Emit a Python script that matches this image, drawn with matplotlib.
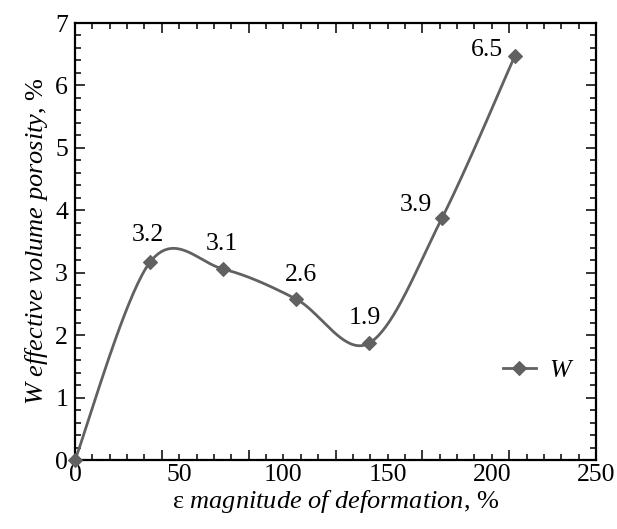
import numpy as np
import matplotlib
matplotlib.use('Agg')
import matplotlib.pyplot as plt

# data
deformation = [0, 36, 71, 106, 141, 176, 211]
porosity = [0, 3.17, 3.06, 2.58, 1.87, 3.87, 6.47]
point_labels = ['', '3.2', '3.1', '2.6', '1.9', '3.9', '6.5']
label_offsets = [(0, 0), (-2, 27), (-1, 25), (5, 24), (-4, 25), (-26, 13), (-28, 6)]
x_labels = [0, 50, 100, 150, 200, 250]

plt.rcParams['font.family'] = ['Liberation Serif', 'DejaVu Serif']
plt.rcParams['mathtext.fontset'] = 'custom'
plt.rcParams['mathtext.rm'] = 'Liberation Serif'
plt.rcParams['mathtext.it'] = 'Liberation Serif:italic'

color = '#616161'


# Excel-like smoothed line: cubic Bezier segments through the points
def smooth(xs, ys, sx, sy, n=40):
    p = np.column_stack([np.asarray(xs, float) * sx, np.asarray(ys, float) * sy])
    ext = np.vstack([p[0], p, p[-1]])
    out = []
    t = np.linspace(0, 1, n)[:, None]
    for i in range(len(p) - 1):
        p0, p1, p2, p3 = ext[i], ext[i + 1], ext[i + 2], ext[i + 3]
        c1 = p1 + (p2 - p0) / 6
        c2 = p2 - (p3 - p1) / 6
        seg = (1 - t) ** 3 * p1 + 3 * (1 - t) ** 2 * t * c1 + 3 * (1 - t) * t ** 2 * c2 + t ** 3 * p2
        out.append(seg)
    out = np.vstack(out)
    return out[:, 0] / sx, out[:, 1] / sy


fig = plt.figure(figsize=(6.17, 5.29), dpi=100)
ax = fig.add_axes([0.1216, 0.1304, 0.8444, 0.8261])

xs, ys = smooth(deformation, porosity, 521 / 250, 437 / 7)
ax.plot(xs, ys, color=color, lw=2, zorder=2)
ax.plot(deformation, porosity, ls='none', marker='D', ms=7.5, mew=0.8,
        color=color, zorder=3, clip_on=False)
ax.plot([], [], color=color, lw=2, marker='D', ms=7.5, mew=0.8, label='$\\mathit{W}$')

for x, y, lab, off in zip(deformation, porosity, point_labels, label_offsets):
    if lab:
        ax.annotate(lab, (x, y), xytext=off, textcoords='offset pixels',
                    ha='center', va='center', fontsize=18.5)

ax.set_xlim(0, 250)
ax.set_ylim(0, 7)

# x tick marks use 6 divisions, the labels sit every 50
ax.set_xticks(np.linspace(0, 250, 7))
ax.set_xticks(np.linspace(0, 250, 31), minor=True)
ax.set_yticks(range(0, 8))
ax.set_yticks(np.arange(0, 7.01, 0.2), minor=True)
ax.tick_params(which='both', direction='in', top=True, right=True, width=1.1)
ax.tick_params(which='major', length=7)
ax.tick_params(which='minor', length=4)
ax.tick_params(axis='x', which='both', labelbottom=False)
ax.tick_params(axis='y', labelsize=18.5, pad=5)

sec = ax.secondary_xaxis('bottom')
sec.set_xticks(x_labels)
sec.tick_params(length=0, labelsize=18.5, pad=3)
sec.spines['bottom'].set_visible(False)

for s in ax.spines.values():
    s.set_linewidth(1.6)

sec.set_xlabel('ε $\\mathit{magnitude\\ of\\ deformation}$, %', fontsize=19, labelpad=1)
ax.set_ylabel('$\\mathit{W\\ effective\\ volume\\ porosity}$, %', fontsize=19, labelpad=4)

ax.legend(loc='center left', bbox_to_anchor=(0.821, 0.204), frameon=False,
          borderpad=0, borderaxespad=0, handlelength=1.3, handletextpad=0.5,
          fontsize=18.5)

fig.savefig('out.png', dpi=100)
